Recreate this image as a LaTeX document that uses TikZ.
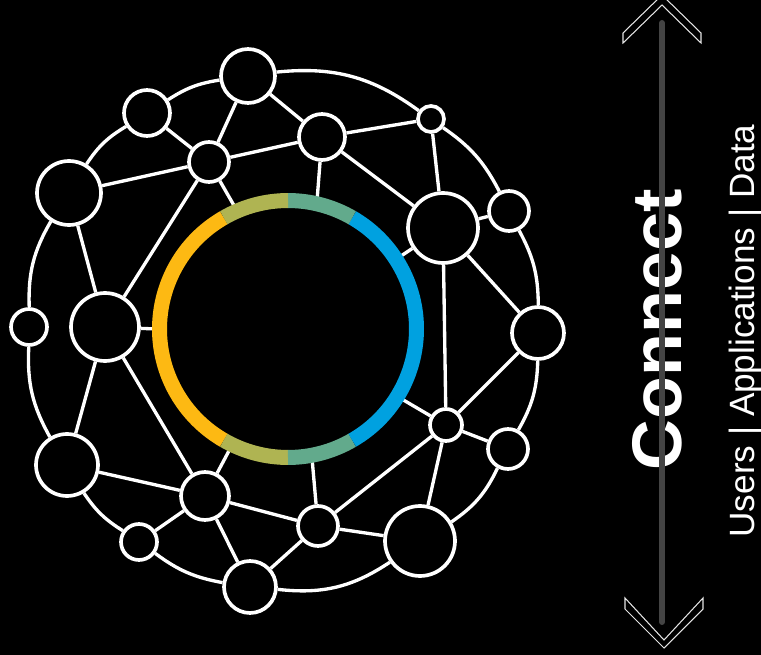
\documentclass[tikz,border=0pt]{standalone}
\usepackage{fontspec}
\setmainfont{Liberation Sans}
\definecolor{ringyellow}{HTML}{FDB913}
\definecolor{ringolive}{HTML}{AFB452}
\definecolor{ringteal}{HTML}{62AA8C}
\definecolor{ringblue}{HTML}{00A1E0}
\definecolor{railgray}{HTML}{444444}
\begin{document}
\begin{tikzpicture}[x=0.02cm, y=0.02cm,
    hub/.style={circle, draw=white, fill=black, line width=2.1pt, inner sep=0pt, minimum size=#1*0.04cm},
    link/.style={white, line width=1.9pt},
    ringseg/.style={line width=0.3cm},
    chevron/.style={draw=white!80!gray, line width=0.6pt, fill=black}]

    % --- background ---
    \fill[black] (0,0) rectangle (761,-655);
    \useasboundingbox (0,0) rectangle (761,-655);

    % --- outer nodes (clockwise from top) ---
    \foreach \name/\x/\y/\r in {top/248/76/27, ne1/431/119/13, ne2/509/211/20, east/538/333/26,
        se1/508/449/20, se2/420/541/35, bottom/250/587/26, sw1/139/542/18,
        sw2/67/465/31, west/29/327/18, nw1/69/193/32, nw2/147/113/23} {
        \node[hub=\r] (\name) at (\x,-\y) {};
    }
    % --- inner nodes ---
    \foreach \name/\x/\y/\r in {hubA/209/162/20, hubB/322/137/23, hubC/443/228/35, hubD/105/327/34,
        hubE/446/425/16, hubF/205/496/24, hubG/318/526/20} {
        \node[hub=\r] (\name) at (\x,-\y) {};
    }

    % --- outer arc ---
    \foreach \a/\b/\bend in {top/ne1/21, ne1/ne2/14, ne2/east/14, east/se1/14, se1/se2/15,
        se2/bottom/20, bottom/sw1/13, sw1/sw2/12, sw2/west/16, west/nw1/16, nw1/nw2/13, nw2/top/12} {
        \draw[link] (\a) to[bend left=\bend] (\b);
    }

    % --- mesh links ---
    \foreach \a/\b in {top/hubA, top/hubB, nw2/hubA, nw1/hubA, hubA/hubB, hubB/ne1, hubA/hubD,
        nw1/hubD, ne1/hubC, hubB/hubC, hubC/ne2, hubC/hubE, hubC/east, east/hubE, hubE/se1,
        hubE/hubG, hubE/se2, hubG/se2, hubG/bottom, hubG/hubF, hubD/sw2, hubD/hubF,
        sw2/hubF, hubF/sw1, hubF/bottom} {
        \draw[link] (\a) -- (\b);
    }

    % --- spokes to the ring ---
    \foreach \n/\x/\y in {hubA/236/209, hubB/317/201, hubC/398/258, hubD/157/329,
        hubE/400/398, hubF/231/447, hubG/312/458} {
        \coordinate (\n-ring) at (\x,-\y);
        \draw[link] (\n) -- (\n-ring);
    }

    % --- colour ring ---
    \coordinate (ringc) at (288,-329);
    \foreach \s/\e/\c in {120/240/ringyellow, 240/270/ringolive, 270/300/ringteal,
        300/420/ringblue, 420/450/ringteal, 450/480/ringolive} {
        \draw[ringseg, \c] (ringc) ++(\s:2.57cm) arc[start angle=\s, end angle=\e, radius=2.57cm];
    }

    % --- title ---
    \node[rotate=90, anchor=base, text=white, font=\bfseries\fontsize{40}{40}\selectfont] (title) at (681,-330) {Connect};
    \node[rotate=90, anchor=base, text=white, font=\fontsize{20}{20}\selectfont] (subtitle) at (754,-331) {Users | Applications | Data};

    % --- rail with chevrons ---
    \coordinate (railtop) at (662,-23);
    \coordinate (railbot) at (662,-622);
    \draw[railgray, line width=0.12cm, line cap=round] (railtop) -- (railbot);
    \draw[chevron] (623,-33) -- (662,5) -- (701,-33) -- (701,-43) -- (662,-5) -- (623,-43) -- cycle;
    \draw[chevron] (625,-598) -- (664,-640) -- (703,-598) -- (703,-609) -- (664,-648) -- (625,-609) -- cycle;

\end{tikzpicture}
\end{document}
